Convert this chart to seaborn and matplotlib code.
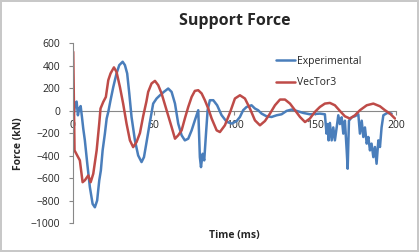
import matplotlib
matplotlib.use("Agg")
import matplotlib.pyplot as plt
import seaborn as sns

# Experimental support force
exp_t = [0.5, 1.5, 2.3, 3.1, 3.9, 4.8, 5.6, 6.4, 7.4, 8.9, 10.5, 12.2, 13.6, 15.0, 16.3,
         17.3, 18.4, 19.8, 20.9, 21.9, 23.3, 25.0, 27.0, 28.7, 30.8, 32.2, 33.6, 34.9, 36.3,
         38.4, 40.4, 42.5, 44.0, 45.6, 47.7, 49.7, 51.8, 53.9, 56.3, 59.0, 61.1, 63.2, 65.2,
         67.3, 69.3, 71.4, 73.5, 75.5, 77.6, 78.6, 79.3, 80.3, 81.3, 82.4, 83.4, 84.8, 86.9,
         89.3, 92.0, 95.2, 98.3, 101.4, 103.4, 105.4, 107.5, 110.6, 112.7, 114.7, 116.8,
         119.9, 123.0, 126.1, 129.2, 132.3, 135.4, 138.5, 142.6, 146.7, 152.9, 156.0,
         157.0, 157.7, 158.3, 159.1, 160.2, 161.2, 162.2, 163.3, 164.3, 165.3, 166.4, 167.4,
         168.4, 169.5, 170.1, 170.9, 172.6, 174.6, 176.7, 177.7, 178.8, 179.8, 180.8, 181.9,
         182.9, 183.9, 184.9, 186.0, 187.0, 188.0, 189.1, 190.1, 191.1, 192.2, 194.6, 197.3]
exp_f = [-30, 60, 80, -42, 18, 40, -57, -160, -265, -473, -681, -830, -860, -800, -622,
         -533, -354, -205, -71, -12, 92, 210, 330, 404, 434, 404, 330, 152, -57,
         -265, -399, -458, -414, -280, -100, 62, 107, 136, 166, 196, 166, 62, -116,
         -220, -265, -250, -176, -87, 3, -414, -503, -384, -443, -205, 3, 92, 92,
         47, -40, -100, -116, -93, -57, 3, 32, 47, 18, 3, -27,
         -51, -57, -42, -33, -3, 9, -3, -21, -33, -27, -33,
         -205, -120, -265, -110, -265, -150, -265, -150, -42, -120, -60, -205,
         -90, -354, -517, -90, -60, -50, -33, -205, -90, -235, -150, -294,
         -235, -354, -294, -414, -324, -473, -265, -324, -150, -42, -21, -27]

# VecTor3 prediction
vt_t = [0.2, 1.0, 2.7, 4.3, 6.0, 7.4, 9.5, 11.0, 12.6, 14.7, 16.3, 17.1, 18.8, 20.4, 21.9,
        23.3, 25.4, 27.0, 29.1, 31.1, 33.2, 35.3, 37.3, 39.4, 41.5, 43.5, 45.5, 46.6, 48.7,
        50.8, 52.8, 54.9, 58.0, 61.1, 63.2, 65.2, 67.3, 69.3, 71.4, 73.5, 75.5, 77.6, 79.7,
        81.7, 83.8, 85.9, 89.0, 91.0, 94.1, 97.2, 100.3, 103.4, 106.5, 109.6, 112.7, 115.8,
        118.9, 122.0, 125.1, 128.2, 131.3, 134.4, 137.5, 140.6, 143.7, 146.7, 149.8, 152.9,
        156.0, 159.1, 162.2, 165.3, 168.4, 171.5, 174.6, 177.7, 181.9, 186.0, 190.1, 193.2,
        196.3, 199.4]
vt_f = [523, -354, -400, -443, -637, -620, -577, -637, -562, -354, -116, 18, 77, 121, 270,
        330, 384, 344, 210, 62, -116, -265, -325, -280, -200, -50, 80, 166, 241,
        264, 226, 152, 3, -146, -250, -220, -176, -71, 32, 121, 175, 181, 152,
        92, 18, -71, -176, -191, -131, -20, 107, 136, 107, 18, -87, -131,
        -93, -27, 47, 98, 98, 62, 3, -57, -102, -71, -12, 32,
        62, 68, 47, -3, -51, -71, -42, 3, 47, 62, 38, 3,
        -27, -71]

x_ticks = [0, 50, 100, 150, 200]
y_ticks = [600, 400, 200, 0, -200, -400, -600, -800, -1000]

sns.set_style("white")
plt.rcParams["font.family"] = ["Open Sans", "DejaVu Sans"]

fig = plt.figure(figsize=(4.19, 2.52), dpi=100)
fig.patch.set_edgecolor("#c8c8c8")
fig.patch.set_linewidth(1.5)
ax = fig.add_axes([0.174, 0.115, 0.771, 0.714])

sns.lineplot(x=exp_t, y=exp_f, color="#4A7EBB", lw=1.8, label="Experimental", ax=ax,
             estimator=None, sort=False, solid_joinstyle="round")
sns.lineplot(x=vt_t, y=vt_f, color="#BE4B48", lw=1.8, label="VecTor3", ax=ax,
             estimator=None, sort=False, solid_joinstyle="round")

ax.set_xlim(0, 200)
ax.set_ylim(-1000, 600)
ax.set_xticks(x_ticks)
ax.set_yticks(y_ticks)
ax.tick_params(labelsize=7.5, length=3, color="#888888")
ax.tick_params(axis="x", pad=4)
ax.tick_params(axis="y", pad=6)
ax.xaxis.set_ticks_position("bottom")
ax.yaxis.set_ticks_position("left")

for s in ["top", "right"]:
    ax.spines[s].set_visible(False)
ax.spines["bottom"].set_position(("data", 0))
ax.spines["bottom"].set_color("#888888")
ax.spines["left"].set_color("#888888")
ax.spines["bottom"].set_zorder(0)

ax.set_title("Support Force", fontsize=11.5, fontweight="bold", pad=13)
ax.set_xlabel("Time (ms)", fontsize=7.5, fontweight="bold")
ax.set_ylabel("Force (kN)", fontsize=7.5, fontweight="bold")
ax.xaxis.set_label_coords(0.5, -0.04)
ax.yaxis.set_label_coords(-0.152, 0.44)

ax.legend(loc="upper left", bbox_to_anchor=(0.6, 0.98), frameon=False, fontsize=7.5,
          handlelength=1.85, handletextpad=0.15, labelspacing=1.0)

fig.savefig("out.png", dpi=100)
